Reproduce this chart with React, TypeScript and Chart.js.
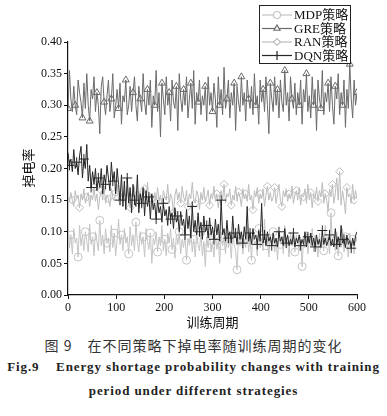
import React, { useEffect, useRef } from "react";
import { Chart, registerables } from "chart.js";
import { drawPoint } from "chart.js/helpers";
Chart.register(...registerables);

const EPOCHS = [
  0, 3, 6, 9, 12, 15, 18, 21, 24, 27, 30, 33, 36, 39, 42, 45, 48, 51, 54, 57,
  60, 63, 66, 69, 72, 75, 78, 81, 84, 87, 90, 93, 96, 99, 102, 105, 108, 111, 114, 117,
  120, 123, 126, 129, 132, 135, 138, 141, 144, 147, 150, 153, 156, 159, 162, 165, 168, 171, 174, 177,
  180, 183, 186, 189, 192, 195, 198, 201, 204, 207, 210, 213, 216, 219, 222, 225, 228, 231, 234, 237,
  240, 243, 246, 249, 252, 255, 258, 261, 264, 267, 270, 273, 276, 279, 282, 285, 288, 291, 294, 297,
  300, 303, 306, 309, 312, 315, 318, 321, 324, 327, 330, 333, 336, 339, 342, 345, 348, 351, 354, 357,
  360, 363, 366, 369, 372, 375, 378, 381, 384, 387, 390, 393, 396, 399, 402, 405, 408, 411, 414, 417,
  420, 423, 426, 429, 432, 435, 438, 441, 444, 447, 450, 453, 456, 459, 462, 465, 468, 471, 474, 477,
  480, 483, 486, 489, 492, 495, 498, 501, 504, 507, 510, 513, 516, 519, 522, 525, 528, 531, 534, 537,
  540, 543, 546, 549, 552, 555, 558, 561, 564, 567, 570, 573, 576, 579, 582, 585, 588, 591, 594, 597,
  600,
];

const MDP = [
  0.120, 0.075, 0.095, 0.065, 0.105, 0.082, 0.090, 0.060, 0.110, 0.078, 0.095, 0.070, 0.100, 0.085, 0.068, 0.112, 0.080, 0.092, 0.062, 0.100,
  0.085, 0.070, 0.118, 0.078, 0.095, 0.065, 0.105, 0.082, 0.090, 0.068, 0.110, 0.075, 0.098, 0.062, 0.088, 0.120, 0.080, 0.095, 0.070, 0.105,
  0.082, 0.092, 0.065, 0.108, 0.078, 0.095, 0.070, 0.115, 0.085, 0.068, 0.100, 0.080, 0.092, 0.060, 0.105, 0.085, 0.072, 0.098, 0.050, 0.090,
  0.080, 0.100, 0.068, 0.092, 0.078, 0.110, 0.070, 0.088, 0.062, 0.098, 0.082, 0.105, 0.072, 0.090, 0.058, 0.095, 0.080, 0.100, 0.065, 0.088,
  0.075, 0.095, 0.055, 0.090, 0.078, 0.102, 0.068, 0.088, 0.060, 0.095, 0.080, 0.070, 0.100, 0.062, 0.085, 0.045, 0.092, 0.075, 0.098, 0.068,
  0.085, 0.060, 0.095, 0.072, 0.088, 0.050, 0.100, 0.078, 0.090, 0.065, 0.105, 0.075, 0.088, 0.058, 0.098, 0.080, 0.070, 0.040, 0.092, 0.078,
  0.100, 0.065, 0.088, 0.075, 0.110, 0.068, 0.092, 0.055, 0.098, 0.080, 0.085, 0.062, 0.105, 0.075, 0.090, 0.070, 0.120, 0.078, 0.088, 0.060,
  0.095, 0.078, 0.100, 0.068, 0.088, 0.055, 0.098, 0.080, 0.092, 0.065, 0.110, 0.075, 0.085, 0.060, 0.100, 0.078, 0.090, 0.068, 0.095, 0.082,
  0.070, 0.092, 0.045, 0.088, 0.075, 0.100, 0.065, 0.090, 0.078, 0.105, 0.068, 0.095, 0.080, 0.060, 0.098, 0.075, 0.088, 0.070, 0.110, 0.078,
  0.092, 0.065, 0.130, 0.080, 0.095, 0.070, 0.100, 0.062, 0.088, 0.075, 0.105, 0.068, 0.092, 0.080, 0.060, 0.098, 0.072, 0.088, 0.065, 0.095,
  0.085,
];

const GRE = [
  0.295, 0.355, 0.310, 0.290, 0.330, 0.300, 0.285, 0.340, 0.320, 0.305, 0.280, 0.335, 0.295, 0.350, 0.300, 0.275, 0.325, 0.310, 0.345, 0.290,
  0.320, 0.300, 0.255, 0.330, 0.345, 0.305, 0.285, 0.315, 0.340, 0.290, 0.310, 0.350, 0.280, 0.300, 0.325, 0.295, 0.335, 0.270, 0.315, 0.305,
  0.340, 0.285, 0.300, 0.330, 0.290, 0.320, 0.345, 0.300, 0.275, 0.330, 0.310, 0.290, 0.350, 0.305, 0.285, 0.325, 0.300, 0.340, 0.265, 0.315,
  0.300, 0.355, 0.290, 0.320, 0.250, 0.335, 0.310, 0.285, 0.345, 0.300, 0.320, 0.275, 0.340, 0.305, 0.295, 0.330, 0.260, 0.350, 0.310, 0.290,
  0.325, 0.300, 0.345, 0.280, 0.310, 0.335, 0.295, 0.355, 0.270, 0.320, 0.305, 0.340, 0.285, 0.315, 0.300, 0.330, 0.275, 0.345, 0.300, 0.320,
  0.290, 0.335, 0.310, 0.265, 0.345, 0.300, 0.325, 0.285, 0.360, 0.295, 0.310, 0.340, 0.280, 0.320, 0.300, 0.335, 0.260, 0.330, 0.305, 0.290,
  0.345, 0.300, 0.320, 0.275, 0.340, 0.310, 0.295, 0.330, 0.285, 0.350, 0.300, 0.315, 0.270, 0.340, 0.305, 0.325, 0.290, 0.345, 0.300, 0.255,
  0.335, 0.310, 0.290, 0.345, 0.300, 0.325, 0.280, 0.340, 0.305, 0.290, 0.355, 0.300, 0.320, 0.275, 0.345, 0.310, 0.295, 0.335, 0.285, 0.320,
  0.300, 0.340, 0.270, 0.325, 0.305, 0.350, 0.290, 0.315, 0.280, 0.345, 0.300, 0.325, 0.260, 0.340, 0.310, 0.295, 0.355, 0.285, 0.320, 0.305,
  0.335, 0.290, 0.345, 0.300, 0.270, 0.330, 0.310, 0.350, 0.285, 0.320, 0.300, 0.340, 0.265, 0.325, 0.295, 0.365, 0.310, 0.280, 0.340, 0.300,
  0.320,
];

const RAN = [
  0.155, 0.148, 0.162, 0.150, 0.140, 0.165, 0.152, 0.158, 0.138, 0.160, 0.150, 0.168, 0.145, 0.155, 0.162, 0.140, 0.158, 0.150, 0.170, 0.148,
  0.160, 0.135, 0.155, 0.165, 0.150, 0.172, 0.145, 0.158, 0.152, 0.140, 0.168, 0.155, 0.148, 0.162, 0.175, 0.150, 0.142, 0.160, 0.155, 0.165,
  0.148, 0.170, 0.152, 0.138, 0.160, 0.155, 0.172, 0.145, 0.158, 0.150, 0.165, 0.140, 0.155, 0.168, 0.150, 0.178, 0.145, 0.160, 0.152, 0.135,
  0.162, 0.150, 0.170, 0.148, 0.158, 0.142, 0.165, 0.155, 0.150, 0.175, 0.145, 0.160, 0.152, 0.130, 0.158, 0.168, 0.150, 0.162, 0.145, 0.172,
  0.155, 0.148, 0.165, 0.140, 0.160, 0.152, 0.178, 0.150, 0.145, 0.165, 0.158, 0.135, 0.162, 0.150, 0.170, 0.148, 0.155, 0.166, 0.142, 0.160,
  0.152, 0.172, 0.148, 0.160, 0.138, 0.158, 0.165, 0.150, 0.175, 0.145, 0.160, 0.155, 0.168, 0.142, 0.158, 0.150, 0.172, 0.148, 0.163, 0.155,
  0.140, 0.168, 0.152, 0.160, 0.148, 0.175, 0.150, 0.158, 0.135, 0.165, 0.155, 0.170, 0.145, 0.160, 0.152, 0.168, 0.140, 0.158, 0.172, 0.150,
  0.162, 0.148, 0.155, 0.170, 0.145, 0.160, 0.175, 0.150, 0.140, 0.165, 0.155, 0.168, 0.148, 0.160, 0.152, 0.172, 0.145, 0.158, 0.165, 0.150,
  0.170, 0.142, 0.158, 0.155, 0.168, 0.145, 0.175, 0.150, 0.162, 0.138, 0.160, 0.152, 0.170, 0.148, 0.165, 0.155, 0.178, 0.145, 0.160, 0.150,
  0.132, 0.168, 0.155, 0.175, 0.145, 0.160, 0.185, 0.150, 0.195, 0.142, 0.165, 0.150, 0.128, 0.170, 0.155, 0.160, 0.145, 0.175, 0.150, 0.165,
  0.152,
];

const DQN = [
  0.225, 0.205, 0.215, 0.195, 0.230, 0.200, 0.210, 0.190, 0.220, 0.235, 0.185, 0.215, 0.200, 0.238, 0.180, 0.205, 0.170, 0.195, 0.175, 0.200,
  0.165, 0.185, 0.170, 0.200, 0.160, 0.190, 0.175, 0.205, 0.185, 0.165, 0.210, 0.180, 0.195, 0.160, 0.200, 0.175, 0.150, 0.190, 0.140, 0.180,
  0.135, 0.185, 0.145, 0.170, 0.130, 0.175, 0.150, 0.140, 0.190, 0.130, 0.160, 0.145, 0.170, 0.125, 0.165, 0.140, 0.155, 0.120, 0.160, 0.135,
  0.145, 0.120, 0.150, 0.130, 0.140, 0.115, 0.145, 0.125, 0.135, 0.110, 0.140, 0.120, 0.130, 0.105, 0.138, 0.115, 0.125, 0.100, 0.132, 0.110,
  0.120, 0.095, 0.135, 0.105, 0.125, 0.090, 0.140, 0.100, 0.118, 0.095, 0.130, 0.100, 0.115, 0.088, 0.125, 0.100, 0.110, 0.090, 0.122, 0.095,
  0.108, 0.088, 0.120, 0.095, 0.112, 0.085, 0.150, 0.095, 0.105, 0.085, 0.118, 0.090, 0.100, 0.082, 0.125, 0.090, 0.098, 0.080, 0.112, 0.088,
  0.100, 0.082, 0.108, 0.088, 0.140, 0.085, 0.098, 0.080, 0.105, 0.088, 0.095, 0.080, 0.102, 0.085, 0.145, 0.082, 0.095, 0.078, 0.100, 0.085,
  0.092, 0.078, 0.098, 0.082, 0.090, 0.076, 0.100, 0.085, 0.092, 0.078, 0.105, 0.082, 0.095, 0.078, 0.088, 0.080, 0.098, 0.076, 0.090, 0.082,
  0.095, 0.078, 0.088, 0.080, 0.100, 0.076, 0.092, 0.082, 0.098, 0.078, 0.090, 0.076, 0.095, 0.080, 0.088, 0.075, 0.102, 0.080, 0.090, 0.078,
  0.085, 0.095, 0.078, 0.088, 0.076, 0.105, 0.080, 0.092, 0.076, 0.110, 0.082, 0.088, 0.075, 0.095, 0.080, 0.086, 0.074, 0.090, 0.078, 0.094,
  0.100,
];

const SERIES_NAMES = ["MDP策略", "GRE策略", "RAN策略", "DQN策略"];
const X_TITLE = "训练周期";
const Y_TITLE = "掉电率";
const CAPTION_CN = "图 9　在不同策略下掉电率随训练周期的变化";
const CAPTION_EN_1 = "Fig.9\u00a0\u00a0\u00a0\u00a0Energy shortage probability changes with training";
const CAPTION_EN_2 = "period under different strategies";

const STYLES = [
  { color: "#c4c4c4", point: "circle", radius: 4, phase: 2 },
  { color: "#6a6a6a", point: "triangle", radius: 4, phase: 0 },
  { color: "#bcbcbc", point: "rectRot", radius: 4, phase: 3 },
  { color: "#262626", point: "cross", radius: 5, phase: 1 },
];

const decorPlugin = {
  id: "boxLegend",
  afterDraw(chart: any) {
    const ctx = chart.ctx as CanvasRenderingContext2D;
    ctx.save();
    // y-axis title
    ctx.translate(28, 168);
    ctx.rotate(-Math.PI / 2);
    ctx.fillStyle = "#111";
    ctx.font = '13px "Noto Sans CJK SC", sans-serif';
    ctx.textAlign = "center";
    ctx.textBaseline = "middle";
    ctx.fillText(Y_TITLE, 0, 0);
    ctx.restore();

    const x0 = 259, y0 = 5, w = 91, h = 58;
    ctx.save();
    ctx.fillStyle = "#fff";
    ctx.fillRect(x0, y0, w, h);
    ctx.strokeStyle = "#222";
    ctx.lineWidth = 1;
    ctx.strokeRect(x0 + 0.5, y0 + 0.5, w, h);
    SERIES_NAMES.forEach((name, i) => {
      const st = STYLES[i];
      const y = y0 + 10 + i * 13.5;
      ctx.strokeStyle = st.color;
      ctx.lineWidth = 1.2;
      ctx.beginPath();
      ctx.moveTo(x0 + 3, y);
      ctx.lineTo(x0 + 33, y);
      ctx.stroke();
      ctx.fillStyle = "#fff";
      drawPoint(ctx, { pointStyle: st.point, radius: st.radius - 0.5, rotation: 0, borderWidth: 1 } as any, x0 + 18, y);
      ctx.fillStyle = "#111";
      ctx.font = '13px "Liberation Serif", "Noto Sans CJK SC", serif';
      ctx.textBaseline = "middle";
      ctx.textAlign = "left";
      ctx.fillText(name, x0 + 35, y + 1);
    });
    ctx.restore();
  },
};

export default function App() {
  const ref = useRef<HTMLCanvasElement>(null);
  useEffect(() => {
    if (!ref.current) return;
    const seriesData = [MDP, GRE, RAN, DQN];
    const orders = [3, 2, 1, 0];
    const chart = new Chart(ref.current, {
      type: "line",
      data: {
        datasets: seriesData.map((vals, k) => ({
          label: SERIES_NAMES[k],
          data: EPOCHS.map((x, i) => ({ x, y: vals[i] })),
          borderColor: STYLES[k].color,
          backgroundColor: "rgba(255,255,255,0)",
          borderWidth: 1,
          pointStyle: STYLES[k].point as any,
          pointBorderColor: STYLES[k].color,
          pointBackgroundColor: "rgba(255,255,255,0)",
          pointBorderWidth: 1,
          pointRadius: (c: any) => (c.dataIndex % 5 === STYLES[k].phase ? STYLES[k].radius : 0),
          tension: 0,
          order: orders[k],
        })),
      },
      options: {
        animation: false,
        responsive: false,
        devicePixelRatio: 1,
        layout: { padding: { left: 0, right: 30, top: 42, bottom: 0 } },
        plugins: { legend: { display: false }, tooltip: { enabled: false } },
        scales: {
          x: {
            type: "linear",
            min: 0,
            max: 600,
            afterFit: (s: any) => { s.height = 35; },
            ticks: { stepSize: 100, color: "#111", padding: 2, maxRotation: 0, font: { family: '"Liberation Serif", serif', size: 12 } },
            grid: { drawOnChartArea: false, drawTicks: true, tickLength: 4, color: "#111" },
            border: { color: "#111", width: 1.2 },
            title: { display: true, text: X_TITLE, color: "#111", padding: { top: 0, bottom: 0 }, font: { family: '"Noto Sans CJK SC", sans-serif', size: 13 } },
          },
          y: {
            type: "linear",
            min: 0,
            max: 0.4,
            afterFit: (s: any) => { s.width = 68; },
            ticks: {
              stepSize: 0.05,
              color: "#111",
              padding: 2,
              font: { family: '"Liberation Serif", serif', size: 12 },
              callback: (v: any) => Number(v).toFixed(2),
            },
            grid: { drawOnChartArea: false, drawTicks: true, tickLength: 4, color: "#111" },
            border: { color: "#111", width: 1.2 },
          },
        },
      },
      plugins: [decorPlugin],
    });
    return () => chart.destroy();
  }, []);

  return (
    <div style={{ position: "absolute", left: 0, top: 0, width: 387, height: 416, background: "#fff", overflow: "hidden" }}>
      <canvas ref={ref} width={387} height={330} style={{ position: "absolute", left: 0, top: 0 }} />
      <div style={{ position: "absolute", left: 0, top: 335, width: 387, textAlign: "center", fontFamily: '"Noto Sans CJK SC", sans-serif', fontSize: 14, lineHeight: "20px", color: "#333", letterSpacing: 1, whiteSpace: "pre" }}>
        {CAPTION_CN}
      </div>
      <div style={{ position: "absolute", left: 0, top: 357, width: 387, textAlign: "center", fontFamily: '"Liberation Serif", serif', fontWeight: "bold", fontSize: 13, lineHeight: "20px", color: "#222", letterSpacing: 0.9, whiteSpace: "pre" }}>
        {CAPTION_EN_1}
      </div>
      <div style={{ position: "absolute", left: 0, top: 381, width: 387, textAlign: "center", fontFamily: '"Liberation Serif", serif', fontWeight: "bold", fontSize: 13, lineHeight: "20px", color: "#222", letterSpacing: 0.9, whiteSpace: "pre" }}>
        {CAPTION_EN_2}
      </div>
    </div>
  );
}
